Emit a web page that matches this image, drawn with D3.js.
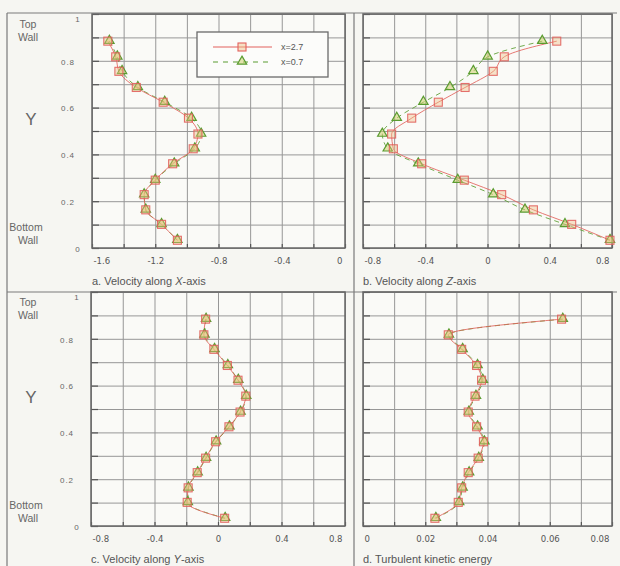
<!DOCTYPE html>
<html><head><meta charset="utf-8">
<script src="https://cdn.jsdelivr.net/npm/d3@7/dist/d3.min.js"></script>
<style>
html,body{margin:0;padding:0;background:#f6f6f2;}
svg{display:block;}
</style></head>
<body>
<script>
// ---- data ----
const yLevels = [0.884, 0.817, 0.755, 0.686, 0.623, 0.555, 0.487, 0.424, 0.360, 0.290, 0.228, 0.163, 0.101, 0.033];
const seriesNames = ["x=2.7", "x=0.7"];

const velX_27 = [-1.50, -1.45, -1.43, -1.32, -1.15, -0.99, -0.93, -0.96, -1.09, -1.20, -1.27, -1.26, -1.16, -1.06];
const velX_07 = [-1.49, -1.44, -1.41, -1.31, -1.14, -0.97, -0.91, -0.95, -1.08, -1.20, -1.27, -1.26, -1.16, -1.06];

const velZ_27 = [0.445, 0.108, 0.037, -0.144, -0.316, -0.487, -0.616, -0.605, -0.423, -0.149, 0.091, 0.295, 0.541, 0.787];
const velZ_07 = [0.352, 0.001, -0.091, -0.241, -0.412, -0.583, -0.676, -0.641, -0.445, -0.191, 0.037, 0.241, 0.498, 0.787];

const velY_27 = [-0.078, -0.089, -0.026, 0.059, 0.126, 0.175, 0.139, 0.069, -0.015, -0.078, -0.131, -0.188, -0.194, 0.042];
const velY_07 = [-0.075, -0.085, -0.022, 0.062, 0.128, 0.178, 0.142, 0.072, -0.012, -0.075, -0.128, -0.186, -0.190, 0.045];

const tke_27 = [0.0638, 0.0274, 0.0317, 0.0365, 0.0381, 0.0360, 0.0338, 0.0365, 0.0387, 0.0370, 0.0338, 0.0317, 0.0306, 0.0231];
const tke_07 = [0.0642, 0.0276, 0.0320, 0.0368, 0.0385, 0.0363, 0.0340, 0.0368, 0.0390, 0.0372, 0.0341, 0.0320, 0.0309, 0.0234];

const yTickValues = [1, 0.8, 0.6, 0.4, 0.2, 0];
const yTickLabels = ["1", "0.8", "0.6", "0.4", "0.2", "0"];

const xTicksA = [-1.6, -1.2, -0.8, -0.4, 0];
const xLabelsA = ["-1.6", "-1.2", "-0.8", "-0.4", "0"];
const xTicksB = [-0.8, -0.4, 0, 0.4, 0.8];
const xLabelsB = ["-0.8", "-0.4", "0", "0.4", "0.8"];
const xTicksC = [-0.8, -0.4, 0, 0.4, 0.8];
const xLabelsC = ["-0.8", "-0.4", "0", "0.4", "0.8"];
const xTicksD = [0, 0.02, 0.04, 0.06, 0.08];
const xLabelsD = ["0", "0.02", "0.04", "0.06", "0.08"];

// ---- layout ----
const W = 620, H = 566;
const svg = d3.select("body").append("svg").attr("width", W).attr("height", H);
svg.append("rect").attr("width", W).attr("height", H).attr("fill", "#f6f6f2");

const RED = "#e2615c", GREEN = "#5a9c30";
const FRAME = "#666", GRID = "#979797";

const panels = [
  {box:[92,345,14,248], dom:[-1.6,0], grid:0.2, t:xTicksA, l:xLabelsA, s27:velX_27, s07:velX_07, yLabels:true,
   title:["a. Velocity along ","X","-axis"], legend:true},
  {box:[363,612,14,248], dom:[-0.8,0.8], grid:0.2, t:xTicksB, l:xLabelsB, s27:velZ_27, s07:velZ_07, yLabels:false,
   title:["b. Velocity along ","Z","-axis"]},
  {box:[91,345,292,526], dom:[-0.8,0.8], grid:0.2, t:xTicksC, l:xLabelsC, s27:velY_27, s07:velY_07, yLabels:true,
   title:["c. Velocity along ","Y","-axis"]},
  {box:[363,612,292,526], dom:[0,0.08], grid:0.01, t:xTicksD, l:xLabelsD, s27:tke_27, s07:tke_07, yLabels:false,
   title:["d. Turbulent kinetic energy","",""]}
];

// outer frame lines
const fr = svg.append("g").attr("stroke", "#7a7a7a").attr("stroke-width", 1.2);
fr.append("line").attr("x1", 7).attr("x2", 7).attr("y1", 13).attr("y2", H);
fr.append("line").attr("x1", 7).attr("x2", 617).attr("y1", 13).attr("y2", 13);
fr.append("line").attr("x1", 7).attr("x2", 617).attr("y1", 292).attr("y2", 292);
fr.append("line").attr("x1", 354).attr("x2", 354).attr("y1", 13).attr("y2", H);

panels.forEach(p => {
  const [x0, x1, y0, y1] = p.box;
  const x = d3.scaleLinear().domain(p.dom).range([x0, x1]);
  const y = d3.scaleLinear().domain([0, 1]).range([y1, y0]);
  const g = svg.append("g");

  g.append("rect").attr("x", x0).attr("y", y0).attr("width", x1 - x0).attr("height", y1 - y0).attr("fill", "#fafaf7");

  // grid
  const nx = Math.round((p.dom[1] - p.dom[0]) / p.grid);
  const xGrid = d3.range(nx + 1).map(i => p.dom[0] + i * p.grid);
  const yGrid = d3.range(11).map(i => i / 10);
  g.append("g").attr("transform", `translate(0,${y1})`)
    .call(d3.axisBottom(x).tickValues(xGrid).tickSize(-(y1 - y0)).tickFormat(""))
    .call(a => a.select(".domain").remove())
    .selectAll("line").attr("stroke", GRID).attr("stroke-width", 1);
  g.append("g").attr("transform", `translate(${x0},0)`)
    .call(d3.axisLeft(y).tickValues(yGrid).tickSize(-(x1 - x0)).tickFormat(""))
    .call(a => a.select(".domain").remove())
    .selectAll("line").attr("stroke", GRID).attr("stroke-width", 1);
  // small inner ticks
  g.append("g").attr("transform", `translate(0,${y1})`)
    .call(d3.axisBottom(x).tickValues(xGrid).tickSize(-4).tickFormat(""))
    .call(a => a.select(".domain").remove())
    .selectAll("line").attr("stroke", "#555").attr("stroke-width", 1.2);
  g.append("g").attr("transform", `translate(${x0},0)`)
    .call(d3.axisLeft(y).tickValues(yGrid).tickSize(-7).tickFormat(""))
    .call(a => a.select(".domain").remove())
    .selectAll("line").attr("stroke", "#555").attr("stroke-width", 1.2);

  g.append("rect").attr("x", x0).attr("y", y0).attr("width", x1 - x0).attr("height", y1 - y0)
    .attr("fill", "none").attr("stroke", FRAME).attr("stroke-width", 1.5);

  // x tick labels
  const xa = g.append("g").attr("transform", `translate(0,${y1})`)
    .call(d3.axisBottom(x).tickValues(p.t).tickSize(0).tickPadding(9).tickFormat((d, i) => p.l[i]));
  xa.select(".domain").remove();
  xa.selectAll("text").attr("fill", "#555").attr("font-size", 9.5)
    .attr("font-family", "'Liberation Sans Narrow','DejaVu Sans Condensed',sans-serif")
    .each(function(d, i) {
      const n = p.t.length;
      const t = d3.select(this);
      if (i === 0) t.attr("text-anchor", "start").attr("dx", 1);
      else if (i === n - 1) t.attr("text-anchor", "end").attr("dx", -3);
      else t.attr("text-anchor", "middle");
    });

  // y tick labels
  if (p.yLabels) {
    const ya = g.append("g").attr("transform", `translate(${x0},0)`)
      .call(d3.axisLeft(y).tickValues(yTickValues).tickSize(0).tickPadding(0).tickFormat((d, i) => yTickLabels[i]));
    ya.select(".domain").remove();
    ya.selectAll("text").attr("fill", "#666").attr("font-size", 8)
      .attr("font-family", "'Liberation Sans',Arial,sans-serif").attr("letter-spacing", 0.9)
      .attr("text-anchor", "middle")
      .attr("x", (d) => (d === 0 || d === 1) ? -14 : -24)
      .attr("dy", (d) => d === 1 ? "0.95em" : "0.42em");

    const lab = g.append("g").attr("fill", "#666").attr("font-family", "'Liberation Sans',Arial,sans-serif")
      .attr("text-anchor", "middle");
    lab.append("text").attr("x", 28).attr("y", y0 + 14).attr("font-size", 10.5).text("Top");
    lab.append("text").attr("x", 28).attr("y", y0 + 27).attr("font-size", 10.5).text("Wall");
    lab.append("text").attr("x", 26).attr("y", y1 - 17).attr("font-size", 10.5).text("Bottom");
    lab.append("text").attr("x", 28).attr("y", y1 - 4).attr("font-size", 10.5).text("Wall");
    lab.append("text").attr("x", 31).attr("y", y0 + 111).attr("font-size", 17).text("Y");
  }

  // title
  const tt = g.append("text").attr("x", x0).attr("y", y1 + 37).attr("fill", "#555")
    .attr("font-size", 11).attr("font-family", "'Liberation Sans',Arial,sans-serif");
  tt.append("tspan").text(p.title[0]);
  if (p.title[1]) tt.append("tspan").attr("font-style", "italic").text(p.title[1]);
  if (p.title[2]) tt.append("tspan").text(p.title[2]);

  // series
  const d27 = yLevels.map((yy, i) => ({x: p.s27[i], y: yy}));
  const d07 = yLevels.map((yy, i) => ({x: p.s07[i], y: yy}));
  const line = d3.line().x(d => x(d.x)).y(d => y(d.y)).curve(d3.curveMonotoneY);

  g.append("path").datum(d07).attr("d", line).attr("fill", "none").attr("stroke", GREEN)
    .attr("stroke-width", 1).attr("stroke-dasharray", "5,4").attr("opacity", 0.85);
  g.append("path").datum(d27).attr("d", line).attr("fill", "none").attr("stroke", RED)
    .attr("stroke-width", 1).attr("opacity", 0.85);

  const tri = d3.symbol().type(d3.symbolTriangle).size(38);
  g.selectAll(".tri").data(d07).join("path").attr("class", "tri")
    .attr("d", tri).attr("transform", d => `translate(${x(d.x)},${y(d.y) - 0.5})`)
    .attr("fill", "rgba(205,205,110,0.55)").attr("stroke", GREEN).attr("stroke-width", 1.2);
  g.selectAll(".sq").data(d27).join("rect").attr("class", "sq")
    .attr("x", d => x(d.x) - 4).attr("y", d => y(d.y) - 4).attr("width", 8).attr("height", 8)
    .attr("fill", "rgba(240,190,130,0.45)").attr("stroke", RED).attr("stroke-width", 1.1).attr("opacity", 0.9);

  // legend
  if (p.legend) {
    const lg = g.append("g");
    lg.append("rect").attr("x", 197).attr("y", 32).attr("width", 131).attr("height", 45)
      .attr("fill", "#fcfcfa").attr("stroke", "#6a6a6a").attr("stroke-width", 1.3);
    const rows = [{name: seriesNames[0], c: RED, dash: null, yy: 47},
                  {name: seriesNames[1], c: GREEN, dash: "5,5", yy: 62}];
    rows.forEach((r, i) => {
      lg.append("line").attr("x1", 213).attr("x2", 272).attr("y1", r.yy).attr("y2", r.yy)
        .attr("stroke", r.c).attr("stroke-width", 1).attr("stroke-dasharray", r.dash);
      if (i === 0) {
        lg.append("rect").attr("x", 238).attr("y", r.yy - 4).attr("width", 8).attr("height", 8)
          .attr("fill", "rgba(240,190,130,0.45)").attr("stroke", RED).attr("stroke-width", 1.1);
      } else {
        lg.append("path").attr("d", tri).attr("transform", `translate(242,${r.yy - 0.5})`)
          .attr("fill", "rgba(205,205,110,0.55)").attr("stroke", GREEN).attr("stroke-width", 1.2);
      }
      lg.append("text").attr("x", 281).attr("y", r.yy + 3).attr("fill", "#555").attr("font-size", 9)
        .attr("font-family", "'Liberation Sans',Arial,sans-serif").text(r.name);
    });
  }
});
</script>
</body></html>
